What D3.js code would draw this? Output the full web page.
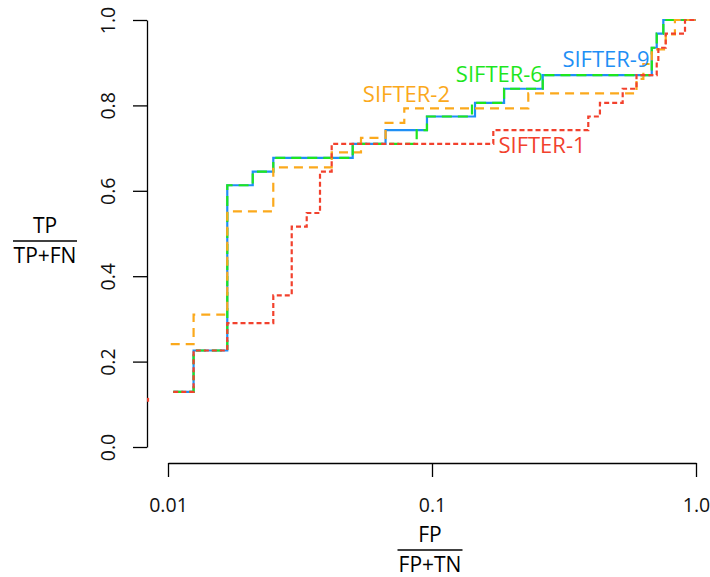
<!DOCTYPE html>
<html>
<head>
<meta charset="utf-8">
<script src="https://cdn.jsdelivr.net/npm/d3@7"></script>
<style>
  body { margin: 0; background: #fff; }
  text { font-family: "Open Sans", "Noto Sans", sans-serif; }
</style>
</head>
<body>
<div id="chart"></div>
<script>
// ROC step curves, [FP/(FP+TN), TP/(TP+FN)] at each jump
var sifter9 = [[0.01047,0.129],[0.0125,0.226],[0.01677,0.613],[0.02094,0.645],[0.02505,0.677],
  [0.05008,0.710],[0.0667,0.742],[0.0957,0.774],[0.1455,0.806],[0.1875,0.839],[0.2627,0.871],
  [0.680,0.935],[0.710,0.968],[0.752,1.0],[1.0,1.0]];
var sifter6 = [[0.01047,0.129],[0.0125,0.226],[0.01677,0.613],[0.02094,0.645],[0.02505,0.677],
  [0.05008,0.710],[0.0875,0.742],[0.0957,0.774],[0.1417,0.806],[0.1875,0.839],[0.2627,0.871],
  [0.680,0.935],[0.710,0.968],[0.752,1.0],[1.0,1.0]];
var sifter2 = [[0.01024,0.241],[0.0125,0.310],[0.01677,0.552],[0.02505,0.655],[0.04169,0.690],
  [0.05383,0.724],[0.0667,0.759],[0.07853,0.793],[0.2316,0.828],[0.5952,0.862],[0.6318,0.897],
  [0.680,0.931],[0.768,0.966],[0.832,1.0],[1.0,1.0]];
var sifter1 = [[0.01047,0.129],[0.0125,0.226],[0.01677,0.290],[0.02505,0.355],[0.02942,0.516],
  [0.03353,0.548],[0.03765,0.645],[0.04169,0.710],[0.1707,0.742],[0.3908,0.774],[0.4326,0.806],
  [0.5276,0.839],[0.5952,0.871],[0.710,0.903],[0.720,0.935],[0.768,0.968],[0.9085,1.0],[1.0,1.0]];
var sifter1Stub = [[0.0084,0.106],[0.0084,0.115]];

var xTicks = [0.01, 0.1, 1.0];
var xTickLabels = ["0.01", "0.1", "1.0"];
var yTicks = [0, 0.2, 0.4, 0.6, 0.8, 1.0];

var seriesNames = ["SIFTER-9", "SIFTER-6", "SIFTER-2", "SIFTER-1"];
// label anchor points in data units
var labelPos = [[0.456, 0.889], [0.18, 0.8555], [0.080, 0.8087], [0.261, 0.6885]];

function main(){
  var W = 710, H = 577;
  var svg = d3.select("#chart").append("svg")
    .attr("width", W).attr("height", H);

  var x = d3.scaleLog().domain([0.01, 1]).range([168, 696]);
  var y = d3.scaleLinear().domain([0, 1]).range([447, 20]);

  // plot region (R extends the ranges by 4%)
  svg.append("clipPath").attr("id", "clip")
    .append("rect").attr("x", 147).attr("y", 3).attr("width", 570).attr("height", 460);

  // y axis
  var gy = svg.append("g")
    .attr("transform", "translate(147,0)")
    .call(d3.axisLeft(y).tickValues(yTicks).tickFormat(d3.format(".1f")).tickSize(14).tickSizeOuter(0));
  gy.selectAll("text")
    .attr("x", 0).attr("dy", 0)
    .attr("text-anchor", "middle")
    .attr("transform", "translate(-32,0) rotate(-90)")
    .style("font-size", "19.5px");

  // x axis
  var gx = svg.append("g")
    .attr("transform", "translate(0,463)")
    .call(d3.axisBottom(x).tickValues(xTicks).tickFormat(function(d, i){ return xTickLabels[i]; }).tickSize(14).tickSizeOuter(0));
  gx.selectAll("text")
    .attr("y", 49).attr("dy", 0)
    .style("font-size", "19.5px");

  svg.selectAll(".domain, .tick line").attr("stroke", "#000").attr("stroke-width", 1.3);
  svg.selectAll(".tick text").attr("fill", "#111");

  // axis titles as fractions
  function fraction(cx, top, num, den, w){
    svg.append("text").attr("x", cx).attr("y", top).attr("text-anchor", "middle")
      .style("font-size", "21px").text(num);
    svg.append("line").attr("x1", cx - w/2).attr("x2", cx + w/2)
      .attr("y1", top + 8).attr("y2", top + 8).attr("stroke", "#000").attr("stroke-width", 1.3);
    svg.append("text").attr("x", cx).attr("y", top + 30).attr("text-anchor", "middle")
      .style("font-size", "21px").text(den);
  }
  fraction(45, 233, "TP", "TP+FN", 64);
  fraction(430, 542, "FP", "FP+TN", 65);

  var line = d3.line()
    .x(function(d){ return x(d[0]); })
    .y(function(d){ return y(d[1]); })
    .curve(d3.curveStepAfter);

  var plot = svg.append("g").attr("clip-path", "url(#clip)");

  var colors = ["#1f8ff5", "#1ee61e", "#fba91c", "#f2412d"];
  var dashes = [null, "10,6", "9,6", "5,3"];
  var data = [sifter9, sifter6, sifter2, sifter1];

  data.forEach(function(s, i){
    plot.append("path")
      .datum(s)
      .attr("fill", "none")
      .attr("stroke", colors[i])
      .attr("stroke-width", 2.2)
      .attr("stroke-dasharray", dashes[i])
      .attr("d", line);
  });

  plot.append("path")
    .datum(sifter1Stub)
    .attr("fill", "none")
    .attr("stroke", colors[3])
    .attr("stroke-width", 2.2)
    .attr("d", d3.line().x(function(d){ return x(d[0]); }).y(function(d){ return y(d[1]); }));

  // series labels
  seriesNames.forEach(function(n, i){
    svg.append("text")
      .attr("x", x(labelPos[i][0]))
      .attr("y", y(labelPos[i][1]))
      .attr("text-anchor", "middle")
      .attr("fill", colors[i])
      .style("font-size", "22px")
      .text(n);
  });
}
main();
</script>
</body>
</html>
